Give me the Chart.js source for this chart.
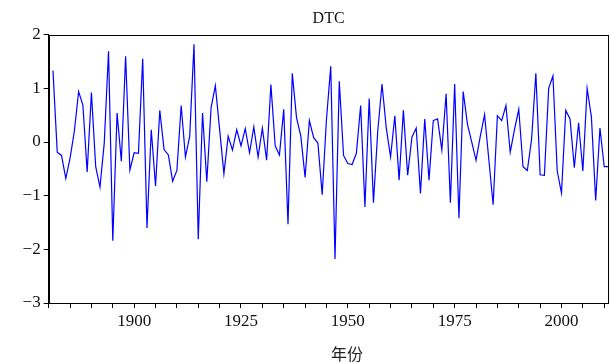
<!DOCTYPE html>
<html>
<head>
<meta charset="utf-8">
<script src="https://cdn.jsdelivr.net/npm/chart.js@4/dist/chart.umd.min.js"></script>
<style>
  html, body { margin: 0; padding: 0; background: #fff; }
  #wrap { width: 611px; height: 363px; }
</style>
</head>
<body>
<div id="wrap"><canvas id="dtcChart" width="611" height="363"></canvas></div>
<script>
// annual DTC values, one per year starting at firstYear
const firstYear = 1881;
const dtcValues = [
  1.33, -0.19, -0.25, -0.68, -0.30, 0.20, 0.94, 0.69, -0.56, 0.92,      // 1881-1890
  -0.46, -0.84, -0.02, 1.69, -1.84, 0.54, -0.36, 1.60, -0.52, -0.20,    // 1891-1900
  -0.21, 1.55, -1.60, 0.23, -0.82, 0.59, -0.14, -0.24, -0.73, -0.53,    // 1901-1910
  0.68, -0.28, 0.11, 1.82, -1.81, 0.54, -0.74, 0.64, 1.05, 0.23,        // 1911-1920
  -0.59, 0.11, -0.15, 0.23, -0.07, 0.25, -0.20, 0.28, -0.28, 0.26,      // 1921-1930
  -0.34, 1.07, -0.07, -0.24, 0.61, -1.53, 1.28, 0.45, 0.11, -0.66,      // 1931-1940
  0.40, 0.08, -0.02, -0.98, 0.42, 1.41, -2.18, 1.13, -0.25, -0.40,      // 1941-1950
  -0.42, -0.21, 0.68, -1.21, 0.81, -1.13, 0.20, 1.08, 0.26, -0.28,      // 1951-1960
  0.49, -0.71, 0.59, -0.62, 0.09, 0.26, -0.96, 0.43, -0.71, 0.40,       // 1961-1970
  0.43, -0.15, 0.90, -1.13, 1.08, -1.42, 0.94, 0.33, 0.00, -0.34,       // 1971-1980
  0.11, 0.51, -0.33, -1.17, 0.49, 0.40, 0.68, -0.19, 0.23, 0.61,        // 1981-1990
  -0.46, -0.53, 0.05, 1.28, -0.61, -0.62, 1.00, 1.23, -0.54, -0.95,     // 1991-2000
  0.59, 0.43, -0.48, 0.36, -0.54, 1.00, 0.47, -1.09, 0.26, -0.46,       // 2001-2010
  -0.46                                                                 // 2011
];
const xTickYears = [1880, 1885, 1890, 1895, 1900, 1905, 1910, 1915, 1920, 1925, 1930,
  1935, 1940, 1945, 1950, 1955, 1960, 1965, 1970, 1975, 1980, 1985, 1990, 1995, 2000,
  2005, 2010];
const xLabelYears = [1900, 1925, 1950, 1975, 2000];
const xTitle = '年份';

const points = dtcValues.map((v, i) => ({ x: firstYear + i, y: v }));

// box round the plot area, plus the x axis title (sits a bit right of centre in the original)
const frame = {
  id: 'frame',
  afterDraw(chart) {
    const { ctx, chartArea: a } = chart;
    ctx.save();
    ctx.strokeStyle = '#000';
    ctx.lineWidth = 1;
    ctx.strokeRect(Math.round(a.left) + 0.5, Math.round(a.top) + 0.5,
      Math.round(a.right - a.left) - 1, Math.round(a.bottom - a.top));
    ctx.fillStyle = '#222';
    ctx.font = "16px 'Noto Sans CJK SC', sans-serif";
    ctx.textAlign = 'center';
    ctx.textBaseline = 'middle';
    ctx.fillText(xTitle, 347, 354);
    ctx.restore();
  }
};

const serif = "'Liberation Serif', 'Times New Roman', serif";

new Chart(document.getElementById('dtcChart').getContext('2d'), {
  type: 'line',
  data: {
    datasets: [{
      label: 'DTC',
      data: points,
      borderColor: '#0000ff',
      borderWidth: 1.2,
      pointRadius: 0,
      tension: 0,
      fill: false
    }]
  },
  options: {
    responsive: false,
    animation: false,
    layout: { padding: { left: 0, right: 2.5, top: 0, bottom: 0 } },
    plugins: {
      legend: { display: false },
      tooltip: { enabled: false },
      title: {
        display: true,
        fullSize: false,
        text: 'DTC',
        color: '#111',
        font: { family: serif, size: 16, weight: 'normal', lineHeight: 1.2 },
        padding: { top: 8.7, bottom: 6.8 }
      }
    },
    scales: {
      x: {
        type: 'linear',
        min: 1880,
        max: 2011,
        afterBuildTicks: scale => { scale.ticks = xTickYears.map(v => ({ value: v })); },
        afterFit: scale => { scale.height = 60; },
        grid: { drawOnChartArea: false, drawTicks: true, tickLength: 5, color: '#000' },
        border: { display: true, color: '#000' },
        ticks: {
          autoSkip: false,
          maxRotation: 0,
          padding: 3,
          color: '#111',
          font: { family: serif, size: 17 },
          callback: v => xLabelYears.includes(v) ? String(v) : ''
        }
      },
      y: {
        min: -3,
        max: 2,
        afterFit: scale => { scale.width = 48.7; },
        grid: { drawOnChartArea: false, drawTicks: true, tickLength: 5, color: '#000' },
        border: { display: true, color: '#000' },
        ticks: {
          stepSize: 1,
          padding: 3,
          color: '#111',
          font: { family: serif, size: 17 },
          callback: v => v < 0 ? '\u2212' + Math.abs(v) : String(v)
        }
      }
    }
  },
  plugins: [frame]
});
</script>
</body>
</html>
